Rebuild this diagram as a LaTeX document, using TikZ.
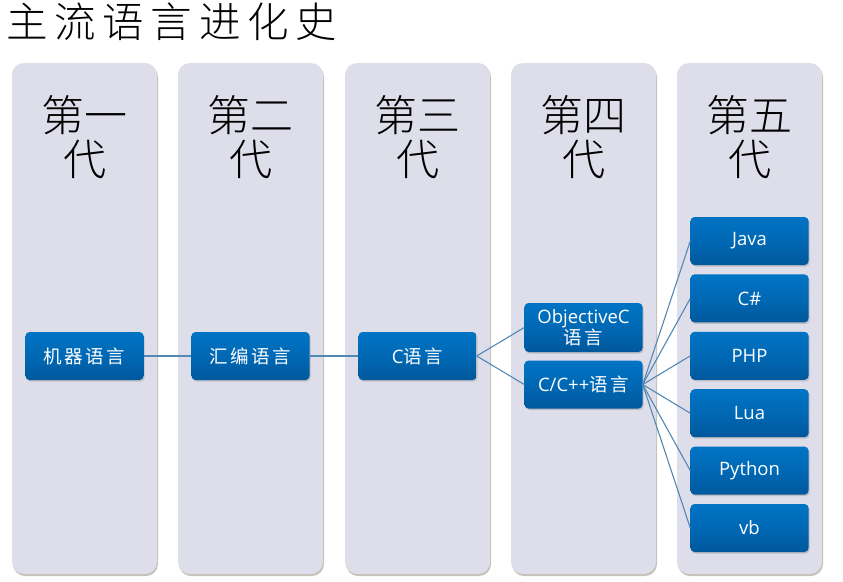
\documentclass[tikz,border=0pt]{standalone}
\usepackage{fontspec}
\setmainfont{Open Sans}
\newfontfamily\cjk[LetterSpace=14]{Noto Sans CJK SC}
\newfontfamily\cjkhead{Noto Sans CJK SC Light}
\newfontfamily\cjktitle[LetterSpace=16]{Noto Sans CJK SC Light}
\usetikzlibrary{shadows}
\definecolor{colfill}{RGB}{222,222,234}
\definecolor{boxtop}{RGB}{0,116,196}
\definecolor{boxmid}{RGB}{0,104,180}
\definecolor{boxbot}{RGB}{0,88,156}
\definecolor{linkcol}{RGB}{84,136,180}
\tikzset{
  column/.style={rounded corners=12pt, fill=colfill, minimum width=145pt,
    minimum height=511pt, inner sep=0pt,
    drop shadow={shadow xshift=1pt, shadow yshift=-2pt, opacity=0.3,
      fill=black!60!brown}},
  header/.style={align=center, font=\cjkhead\fontsize{43}{44}\selectfont},
  langbox/.style={rounded corners=4pt, top color=boxtop, bottom color=boxbot,
    middle color=boxmid, text=white, minimum width=118pt, minimum height=48pt,
    inner sep=1pt, align=center, font=\fontsize{18.5}{21}\selectfont,
    drop shadow={shadow xshift=1pt, shadow yshift=-1.5pt, opacity=0.35}},
  link/.style={linkcol, line width=1.1pt}
}

\begin{document}
\begin{tikzpicture}[x=1pt, y=-1pt]

  \useasboundingbox[fill=white] (0,0) rectangle (843,581);

  % Title.
  \node[anchor=west, font=\cjktitle\fontsize{41.5}{44}\selectfont] (title) at (3,22) {主流语言进化史};

  % Generation columns.
  \foreach \n/\x/\t in {1/84.5/一, 2/250.5/二, 3/417.5/三, 4/583.5/四, 5/749.5/五} {
    \node[column] (col\n) at (\x,318.5) {};
    \node[header] (head\n) at (\x,137) {第\t\\代};
  }

  % Language boxes.
  \node[langbox] (mach) at (84.5,356) {\cjk 机器语言};
  \node[langbox] (asm) at (250.5,356) {\cjk 汇编语言};
  \node[langbox] (clang) at (417.5,356) {C{\cjk 语言}};
  \node[langbox, minimum height=49pt] (objc) at (583.5,327.5)
    {ObjectiveC\\{\cjk 语言}};
  \node[langbox] (cpp) at (583.5,384.5) {C/C++{\cjk 语言}};

  % Fifth generation.
  \foreach \i/\name in {0/Java, 1/C\#, 2/PHP, 3/Lua, 4/Python, 5/vb} {
    \node[langbox] (g\i) at (749.5,{241+57.4*\i}) {\name};
  }

  % Connectors.
  \draw[link] (mach.east) -- (asm.west);
  \draw[link] (asm.east) -- (clang.west);
  \draw[link] (clang.east) -- (objc.west);
  \draw[link] (clang.east) -- (cpp.west);
  \foreach \i in {0,...,5} {
    \draw[link] (cpp.east) -- (g\i.west);
  }

\end{tikzpicture}
\end{document}
